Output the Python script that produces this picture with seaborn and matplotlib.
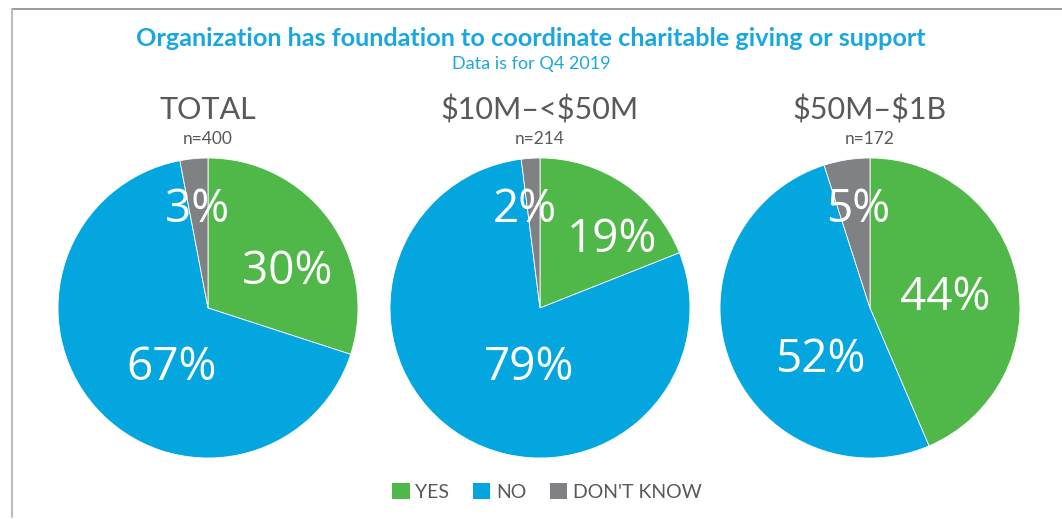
import matplotlib
matplotlib.use('Agg')
import matplotlib.pyplot as plt
from matplotlib.patches import Patch
from matplotlib.lines import Line2D
import seaborn as sns

# ── data ────────────────────────────────────────────────
groups = ['TOTAL', '\\$10M\u2013<\\$50M', '\\$50M\u2013\\$1B']
sizes_n = [400, 214, 172]
answers = ['YES', 'NO', "DON'T KNOW"]
yes_pct = [30, 19, 44]
no_pct = [67, 79, 52]
dk_pct = [3, 2, 5]

# ── style ───────────────────────────────────────────────
sns.set_theme(style='white')
plt.rcParams['font.family'] = ['Lato', 'DejaVu Sans']
COLORS = sns.color_palette(['#50B848', '#04A6E0', '#808184'])
BLUE_T = '#1AA7DF'
GREY_T = '#58595B'

# hand placed label spots (pie units) per slice: yes, no, dk
LABEL_POS = [
    [(0.53, 0.24), (-0.24, -0.40), (-0.07, 0.65)],
    [(0.48, 0.45), (-0.07, -0.40), (-0.10, 0.65)],
    [(0.50, 0.07), (-0.33, -0.35), (-0.08, 0.65)],
]
PIE_LEFT = [58, 390, 720]   # px

W, H = 1062, 519
fig = plt.figure(figsize=(W / 100, H / 100), dpi=100)
fig.patch.set_facecolor('white')

fig.text(0.5, 1 - 38 / H, 'Organization has foundation to coordinate charitable giving or support',
         ha='center', va='center', fontsize=18.2, fontweight='bold', color=BLUE_T)
fig.text(0.5, 1 - 64 / H, 'Data is for Q4 2019', ha='center', va='center',
         fontsize=13, color=BLUE_T)

for i, g in enumerate(groups):
    ax = fig.add_axes([PIE_LEFT[i] / W, (H - 458) / H, 300 / W, 300 / H])
    vals = [yes_pct[i], no_pct[i], dk_pct[i]]
    wedges, _ = ax.pie(vals, colors=COLORS, startangle=90, counterclock=False,
                       wedgeprops=dict(edgecolor='white', linewidth=0.6))
    for v, (px, py) in zip(vals, LABEL_POS[i]):
        ax.text(px, py, f'{v}%', ha='center', va='center', fontsize=33,
                color='white', fontweight='medium',
                fontfamily=['Open Sans', 'DejaVu Sans'])
    ax.set_xlim(-1.0, 1.0)
    ax.set_ylim(-1.0, 1.0)
    ax.axis('off')
    cx = (PIE_LEFT[i] + 150) / W
    fig.text(cx, 1 - 110 / H, g, ha='center', va='center', fontsize=22,
             color=GREY_T)
    fig.text(cx, 1 - 139 / H, f'n={sizes_n[i]}', ha='center', va='center',
             fontsize=12.5, color=GREY_T)

handles = [Patch(facecolor=c, edgecolor='none') for c in COLORS]
leg = fig.legend(handles, answers, loc='center', bbox_to_anchor=(0.515, 1 - 492 / H),
                 ncol=3, frameon=False, fontsize=14, handlelength=0.9, handleheight=0.9,
                 handletextpad=0.3, columnspacing=1.2)
for t in leg.get_texts():
    t.set_color(GREY_T)

# frame lines top / left
fig.add_artist(Line2D([11.5 / W, 1], [1 - 9 / H, 1 - 9 / H], color='#8a8a8a', linewidth=1.2))
fig.add_artist(Line2D([11.5 / W, 11.5 / W], [1 - 9 / H, 1 - 517 / H], color='#bdbdbd', linewidth=1.5))

fig.savefig('out.png', dpi=100, facecolor='white')
